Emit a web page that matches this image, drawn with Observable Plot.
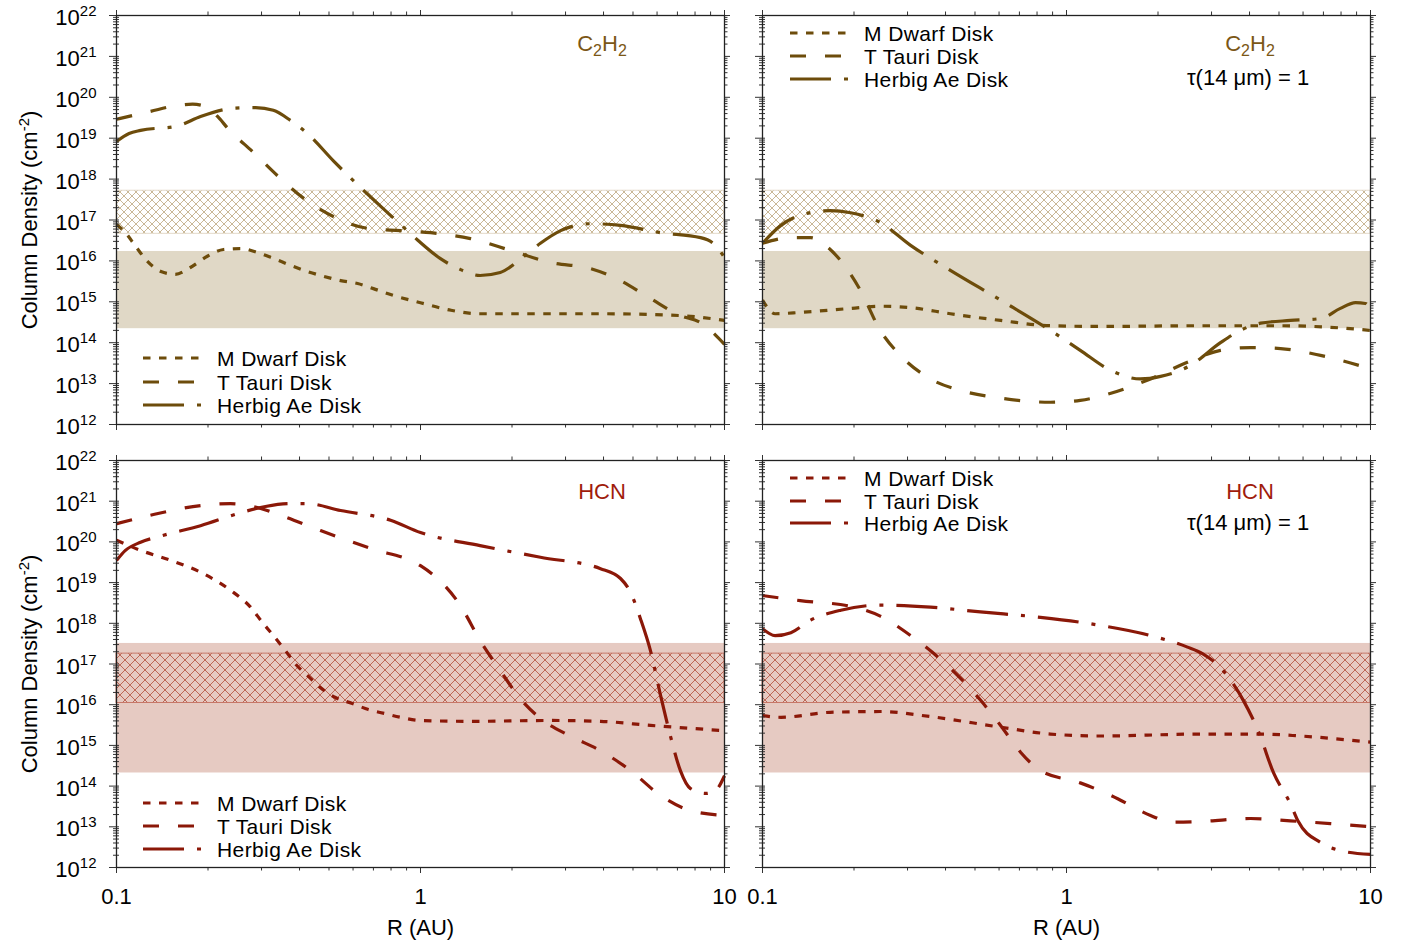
<!DOCTYPE html>
<html>
<head>
<meta charset="utf-8">
<script src="https://cdn.jsdelivr.net/npm/d3@7"></script>
<script src="https://cdn.jsdelivr.net/npm/@observablehq/plot@0.6"></script>
<style>
html,body{margin:0;padding:0;background:#fff;}
#chart{position:relative;width:1408px;height:944px;overflow:hidden;font-family:"Liberation Sans",Arial,Helvetica,sans-serif;}
#chart svg{position:absolute;}
</style>
</head>
<body>
<div id="chart"></div>
<script>
// ---------- data (R in AU, column density in cm^-2) ----------
// C2H2, full column (top-left)
const R_c2h2_md = [0.1,0.107,0.115,0.126,0.140,0.156,0.175,0.199,0.225,0.256,0.291,0.328,0.374,0.425,0.480,0.546,0.621,0.700,0.797,1.0,1.26,1.57,2.13,3.91,7.16,10];
const N_c2h2_md = [7.8e16,4.9e16,2.4e16,1.0e16,5.5e15,4.7e15,6.9e15,1.3e16,1.9e16,2.0e16,1.6e16,1.15e16,7.8e15,5.5e15,4.2e15,3.3e15,2.8e15,2.1e15,1.5e15,9.5e14,6.2e14,5.1e14,5.1e14,5.1e14,4.6e14,3.5e14];
const R_c2h2_tt = [0.1,0.129,0.156,0.178,0.196,0.215,0.233,0.282,0.341,0.422,0.525,0.674,0.859,1.08,1.46,1.98,2.68,3.62,4.55,5.71,7.16,8.34,10];
const N_c2h2_tt = [2.9e19,4.5e19,6.2e19,6.8e19,6.0e19,3.4e19,1.7e19,4.5e18,1.15e18,3.0e17,1.15e17,6.2e16,5.5e16,4.9e16,3.5e16,1.8e16,9.1e15,6.5e15,3.3e15,1.2e15,4.6e14,3.1e14,9.1e13];
const R_c2h2_hb = [0.1,0.11,0.120,0.159,0.189,0.243,0.287,0.328,0.374,0.425,0.517,0.635,0.797,0.88,0.98,1.16,1.35,1.57,1.83,2.13,2.48,2.89,3.62,4.55,6.16,8.34,9.34,10];
const N_c2h2_hb = [8.3e18,1.3e19,1.55e19,2.0e19,3.4e19,5.4e19,5.6e19,4.8e19,2.7e19,1.3e19,2.8e18,6.2e17,1.3e17,6.6e16,3.2e16,1.15e16,6.2e15,4.4e15,5.2e15,1.1e16,2.7e16,5.5e16,8.1e16,7.4e16,4.9e16,3.7e16,2.4e16,1.2e16];
// C2H2, tau(14 um) = 1 (top-right)
const R_c2h2t_md = [0.1,0.110,0.133,0.195,0.244,0.307,0.415,0.607,0.885,1.29,2.76,5.06,7.96,10];
const N_c2h2t_md = [1.1e15,5.1e14,5.5e14,6.9e14,7.8e14,7.2e14,5.1e14,3.5e14,2.6e14,2.5e14,2.6e14,2.6e14,2.3e14,2.0e14];
const R_c2h2t_tt = [0.1,0.124,0.144,0.161,0.181,0.210,0.244,0.284,0.357,0.448,0.607,0.885,1.11,1.40,1.89,2.56,3.21,4.03,5.06,6.85,10];
const N_c2h2t_tt = [2.7e16,3.7e16,3.7e16,2.4e16,1.0e16,1.9e15,2.0e14,4.9e13,1.3e13,6.8e12,4.4e12,3.5e12,3.9e12,5.8e12,1.3e13,3.6e13,6.5e13,7.6e13,7.2e13,4.9e13,2.3e13];
const R_c2h2t_hb = [0.1,0.115,0.133,0.167,0.195,0.244,0.307,0.415,0.607,0.885,1.11,1.40,1.75,2.04,2.56,3.21,3.73,4.35,5.45,6.85,7.96,8.93,9.63,10];
const N_c2h2t_hb = [2.7e16,7.4e16,1.3e17,1.7e17,1.5e17,8.7e16,2.4e16,5.9e15,1.1e15,2.0e14,6.5e13,2.1e13,1.3e13,1.5e13,2.8e13,1.0e14,2.0e14,3.0e14,3.5e14,3.9e14,6.9e14,9.5e14,9.1e14,6.2e14];
// HCN, full column (bottom-left)
const R_hcn_md = [0.1,0.12,0.151,0.189,0.237,0.276,0.302,0.328,0.360,0.388,0.425,0.469,0.525,0.597,0.674,0.767,0.859,1.0,1.46,2.68,3.91,5.71,10];
const N_hcn_md = [1.1e20,6.2e19,3.5e19,1.8e19,6.5e18,2.5e18,1.05e18,5.0e17,2.1e17,1.0e17,5.2e16,2.6e16,1.5e16,1.07e16,7.6e15,6.0e15,4.9e15,4.1e15,3.9e15,4.1e15,3.9e15,3.1e15,2.3e15];
const R_hcn_tt = [0.1,0.129,0.189,0.237,0.298,0.346,0.469,0.685,1.0,1.16,1.35,1.57,1.83,2.13,2.48,3.11,3.91,4.91,6.16,7.73,10];
const N_hcn_tt = [2.8e20,4.5e20,7.8e20,8.7e20,6.6e20,4.5e20,1.9e20,6.9e19,2.6e19,1.1e19,2.8e18,3.8e17,6.9e16,1.4e16,4.6e15,1.7e15,7.4e14,2.4e14,5.9e13,2.5e13,1.9e13];
const R_hcn_hb = [0.1,0.107,0.120,0.140,0.189,0.256,0.309,0.374,0.425,0.546,0.797,1.0,1.57,2.48,3.91,4.55,4.91,5.29,5.71,6.16,6.64,7.16,7.73,8.66,9.34,10];
const N_hcn_hb = [3.5e19,6.2e19,9.8e19,1.4e20,2.5e20,5.2e20,7.4e20,8.7e20,8.7e20,5.9e20,3.4e20,1.7e20,8.1e19,4.2e19,2.2e19,1.26e19,5.7e18,1.3e18,2.1e17,1.7e16,1.7e15,2.4e14,8.7e13,6.6e13,7.8e13,1.8e14];
// HCN, tau(14 um) = 1 (bottom-right)
const R_hcnt_md = [0.1,0.115,0.167,0.244,0.357,0.607,0.885,1.29,2.76,4.35,5.89,10];
const N_hcnt_md = [5.4e15,4.9e15,6.5e15,6.8e15,5.1e15,2.8e15,1.9e15,1.7e15,1.9e15,1.9e15,1.7e15,1.2e15];
const R_hcnt_tt = [0.1,0.133,0.195,0.244,0.307,0.415,0.521,0.607,0.706,0.821,1.11,1.40,1.89,2.20,2.76,4.03,5.45,7.38,10];
const N_hcnt_tt = [4.8e18,3.6e18,2.6e18,1.5e18,5.0e17,7.8e16,1.3e16,3.1e15,6.8e14,2.4e14,1.2e14,5.9e13,1.9e13,1.3e13,1.35e13,1.6e13,1.4e13,1.2e13,1.0e13];
const R_hcnt_hb = [0.1,0.110,0.124,0.144,0.181,0.244,0.357,0.521,0.821,1.29,1.89,2.5,2.8,3.21,3.82,4.29,4.80,5.45,5.77,6.85,7.96,10];
const N_hcnt_hb = [7.4e17,5.0e17,5.9e17,1.2e18,2.1e18,2.8e18,2.5e18,1.9e18,1.4e18,8.9e17,5.0e17,2.6e17,1.8e17,8.1e16,1.26e16,2.1e15,2.1e14,3.7e13,1.4e13,4.1e12,2.6e12,2.1e12];

// observed column-density ranges [low, high]
const c2h2Band = [2.2e14, 1.7e16];
const c2h2Hatch = [4.6e16, 5.2e17];
const hcnBand = [2.1e14, 3.2e17];
const hcnHatch = [1.1e16, 1.8e17];

const seriesNames = ["M Dwarf Disk", "T Tauri Disk", "Herbig Ae Disk"];
const xTicks = [0.1, 1, 10];
const xTickLabels = ["0.1", "1", "10"];
const yExps = [12,13,14,15,16,17,18,19,20,21,22];
const xLabel = "R (AU)";
const yTitle = ["Column Density (cm", "-2", ")"];
const tauLabel = "\u03C4(14 \u03BCm) = 1";

// ---------- styles ----------
const dashes = ["7.5,8.5", "16,19", "41,13,4,13"];
const FONT = '"Liberation Sans", Arial, Helvetica, sans-serif';
const rows = {
  c2h2: {line:"#6d4c0b", label:"#7b5716", bandFill:"#e0d8c6", hatchStroke:"#c4b08b", hatchEdge:"#e0d6c4", hatchSize:8, band:c2h2Band, hatch:c2h2Hatch},
  hcn:  {line:"#8b1808", label:"#a01c0c", bandFill:"#e6cac2", hatchStroke:"#b95b49", hatchEdge:"#c47060", hatchSize:10, band:hcnBand, hatch:hcnHatch}
};
const cols = [{left:0, width:740, ml:116, mr:16, cx:602, tx:1248}, {left:740, width:646, ml:22, mr:16, cx:1250, tx:1248}];
const rowGeo = [{top:0, height:440, mt:15, mb:16, molBase:51, tauBase:85}, {top:445, height:499, mt:15, mb:77, molBase:499, tauBase:530}];

const panels = [
  {id:"tl", r:0, c:0, row:"c2h2", series:[[R_c2h2_md,N_c2h2_md],[R_c2h2_tt,N_c2h2_tt],[R_c2h2_hb,N_c2h2_hb]], tau:false, legend:[358,382,405]},
  {id:"tr", r:0, c:1, row:"c2h2", series:[[R_c2h2t_md,N_c2h2t_md],[R_c2h2t_tt,N_c2h2t_tt],[R_c2h2t_hb,N_c2h2t_hb]], tau:true, legend:[33,56,79]},
  {id:"bl", r:1, c:0, row:"hcn", series:[[R_hcn_md,N_hcn_md],[R_hcn_tt,N_hcn_tt],[R_hcn_hb,N_hcn_hb]], tau:false, legend:[803,826,849]},
  {id:"br", r:1, c:1, row:"hcn", series:[[R_hcnt_md,N_hcnt_md],[R_hcnt_tt,N_hcnt_tt],[R_hcnt_hb,N_hcnt_hb]], tau:true, legend:[478,501,523]}
];

const yMajor = yExps.map(e => Math.pow(10, e));
const yMinor = [];
for (const e of yExps.slice(0, -1)) for (let k = 2; k <= 9; k++) yMinor.push(k * Math.pow(10, e));
const xMinor = [];
for (const e of [-1, 0]) for (let k = 2; k <= 9; k++) xMinor.push(k * Math.pow(10, e));

const chart = document.getElementById("chart");
const toRows = (R, N) => R.map((r, i) => ({R: r, N: N[i]}));

for (const p of panels) {
  const col = cols[p.c], rg = rowGeo[p.r], row = rows[p.row];
  const iw = col.width - col.ml - col.mr, ih = rg.height - rg.mt - rg.mb;
  const hid = "hatch-" + p.id;
  const tk = {stroke: "#333", strokeWidth: 1};
  const marks = [
    Plot.rect([row.band], {y1: d => d[0], y2: d => d[1], fill: row.bandFill}),
    Plot.rect([row.hatch], {y1: d => d[0], y2: d => d[1], fill: `url(#${hid})`, stroke: row.hatchEdge, strokeWidth: 0.9}),
    ...p.series.map((s, i) => Plot.line(toRows(s[0], s[1]), {
      x: "R", y: "N", stroke: row.line, strokeWidth: 3.2, strokeDasharray: dashes[i],
      strokeLinecap: "butt", strokeLinejoin: "round", curve: "monotone-x"
    })),
    // left axis ticks
    Plot.tickY(yMinor, {y: d => d, insetLeft: -3, insetRight: iw - 3, ...tk}),
    Plot.tickY(yMajor, {y: d => d, insetLeft: -7, insetRight: iw - 3, ...tk}),
    // right axis ticks
    Plot.tickY(yMinor, {y: d => d, insetLeft: iw, insetRight: -3.5, ...tk}),
    Plot.tickY(yMajor, {y: d => d, insetLeft: iw, insetRight: -6, ...tk}),
    // top axis ticks
    Plot.tickX(xMinor, {x: d => d, insetTop: -3.5, insetBottom: ih, ...tk}),
    Plot.tickX(xTicks, {x: d => d, insetTop: -5, insetBottom: ih, ...tk}),
    // bottom axis ticks
    Plot.tickX(xMinor, {x: d => d, insetTop: ih, insetBottom: -3.5, ...tk}),
    Plot.tickX(xTicks, {x: d => d, insetTop: ih, insetBottom: -6, ...tk}),
    Plot.frame({stroke: "#222", strokeWidth: 1.3})
  ];
  if (p.c === 0) {
    marks.push(Plot.axisY({ticks: yMajor, tickSize: 0, tickPadding: 20, dy: 2.5, label: null, fontSize: 22,
      tickFormat: d => "10^" + Math.round(Math.log10(d))}));
    marks.push(Plot.text([yTitle.join("^")], {text: d => d, frameAnchor: "left", textAnchor: "middle",
      rotate: -90, dx: -86.5, fontSize: 22}));
  }
  if (p.r === 1) {
    marks.push(Plot.axisX({ticks: xTicks, tickSize: 0, tickPadding: 21, label: null, fontSize: 22,
      tickFormat: d => xTickLabels[xTicks.indexOf(d)]}));
    marks.push(Plot.text([xLabel], {text: d => d, frameAnchor: "bottom", dy: 67, fontSize: 22}));
  }
  const svg = Plot.plot({
    width: col.width, height: rg.height,
    marginLeft: col.ml, marginRight: col.mr, marginTop: rg.mt, marginBottom: rg.mb,
    x: {type: "log", domain: [0.1, 10], ...(p.r === 0 ? {axis: null} : {})},
    y: {type: "log", domain: [1e12, 1e22], ...(p.c === 1 ? {axis: null} : {})},
    style: {fontFamily: FONT, fontSize: "22px", color: "#000", background: "transparent", overflow: "visible"},
    marks
  });
  svg.style.left = col.left + "px";
  svg.style.top = rg.top + "px";
  svg.style.maxWidth = "none";
  const s = row.hatchSize;
  d3.select(svg).insert("defs", ":first-child").html(
    `<pattern id="${hid}" patternUnits="userSpaceOnUse" width="${s}" height="${s}">` +
    `<path d="M0,0L${s},${s}M${s},0L0,${s}" stroke="${row.hatchStroke}" stroke-width="0.9" fill="none"/></pattern>`);
  // superscripts in tick labels and axis title
  d3.select(svg).selectAll("text").each(function () {
    const t = this.textContent;
    const m = /^10\^(\d+)$/.exec(t);
    if (m) {
      this.textContent = "10";
      d3.select(this).append("tspan").attr("dy", -9).attr("font-size", "15px").text(m[1]);
    } else if (t === yTitle.join("^")) {
      this.textContent = yTitle[0];
      d3.select(this).append("tspan").attr("dy", -8).attr("font-size", "15px").text(yTitle[1]);
      d3.select(this).append("tspan").attr("dy", 8).text(yTitle[2]);
    }
  });
  chart.appendChild(svg);
}

// ---------- overlay: molecule labels and legends ----------
const ov = d3.create("svg").attr("width", 1408).attr("height", 944)
  .style("left", "0px").style("top", "0px").style("pointer-events", "none")
  .attr("font-family", FONT);
for (const p of panels) {
  const col = cols[p.c], rg = rowGeo[p.r], row = rows[p.row];
  const t = ov.append("text").attr("x", col.cx).attr("y", rg.molBase).attr("text-anchor", "middle")
    .attr("font-size", 22).attr("fill", row.label);
  if (p.row === "c2h2") {
    t.append("tspan").text("C");
    t.append("tspan").attr("font-size", 16).attr("dy", 5).text("2");
    t.append("tspan").attr("dy", -5).text("H");
    t.append("tspan").attr("font-size", 16).attr("dy", 5).text("2");
  } else {
    t.text("HCN");
  }
  if (p.tau) {
    ov.append("text").attr("x", col.tx).attr("y", rg.tauBase).attr("text-anchor", "middle")
      .attr("font-size", 22).attr("fill", "#000").text(tauLabel);
  }
  const x0 = col.left + (p.c === 0 ? 143 : 50);
  seriesNames.forEach((name, i) => {
    const cy = p.legend[i];
    ov.append("line").attr("x1", x0).attr("x2", x0 + 62).attr("y1", cy).attr("y2", cy)
      .attr("stroke", row.line).attr("stroke-width", 3.2).attr("stroke-dasharray", dashes[i]);
    ov.append("text").attr("x", x0 + 74).attr("y", cy + 7.5).attr("font-size", 21)
      .attr("letter-spacing", "0.4").attr("fill", "#000").text(name);
  });
}
chart.appendChild(ov.node());
</script>
</body>
</html>
